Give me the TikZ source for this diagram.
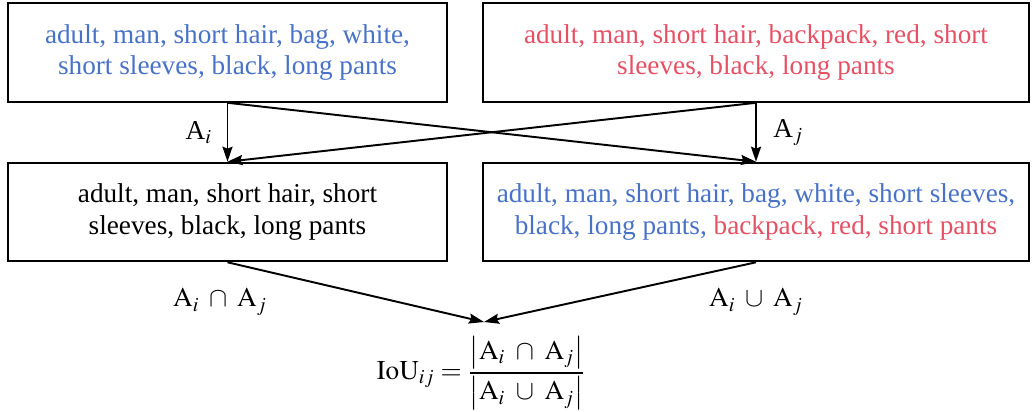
\documentclass[tikz,border=0pt]{standalone}
\usepackage{mathptmx}
\usepackage{fontspec}
\setmainfont{Liberation Serif}
\usetikzlibrary{arrows.meta, positioning, calc}
\definecolor{attrblue}{RGB}{72,114,200}
\definecolor{attrred}{RGB}{230,80,100}
\begin{document}
\begin{tikzpicture}[x=0.02cm, y=-0.02cm,
    attrbox/.style={rectangle, draw, line width=1.2pt, minimum height=1.97cm, align=center, inner sep=0pt, font=\fontsize{15.5}{18.2}\selectfont},
    smallbox/.style={attrbox, minimum width=8.78cm},
    bigbox/.style={attrbox, minimum width=10.92cm},
    arrow/.style={-{Stealth[length=3mm, width=2mm, inset=0.4mm]}, line width=1.1pt},
    lbl/.style={font=\fontsize{15.5}{18.2}\selectfont}
]
\useasboundingbox (0,0) rectangle (1034,412);
\node[smallbox, text=attrblue] (ta) at (227.5,52.5) {adult, man, short hair, bag, white,\\short sleeves, black, long pants};
\node[bigbox, text=attrred] (tb) at (756,52.5) {adult, man, short hair, backpack, red, short\\sleeves, black, long pants};
\node[smallbox] (ba) at (227.5,212) {adult, man, short hair, short\\sleeves, black, long pants};
\node[bigbox] (bb) at (756,212) {\textcolor{attrblue}{adult, man, short hair, bag, white, short sleeves,}\\\textcolor{attrblue}{black, long pants,} \textcolor{attrred}{backpack, red, short pants}};
\coordinate (meet) at (484,322);
\node[lbl] (iou) at (481,373) {$\displaystyle \mathrm{IoU}_{ij}=\frac{\left|\mathrm{A}_i\ \cap\ \mathrm{A}_j\right|}{\left|\mathrm{A}_i\ \cup\ \mathrm{A}_j\right|}$};
\node[lbl] (capl) at (220,302) {$\mathrm{A}_i\;\cap\;\mathrm{A}_j$};
\node[lbl] (cupl) at (756,302) {$\mathrm{A}_i\;\cup\;\mathrm{A}_j$};
\draw[arrow] (ta.south) -- node[left=5pt, lbl] {A$_i$} (ba.north);
\draw[arrow] (tb.south) -- node[right=6pt, lbl] {A$_j$} (bb.north);
\draw[arrow] (ta.south) -- (bb.north);
\draw[arrow] (tb.south) -- (ba.north);
\draw[arrow] (ba.south) -- (meet);
\draw[arrow] (bb.south) -- (meet);
\end{tikzpicture}
\end{document}
